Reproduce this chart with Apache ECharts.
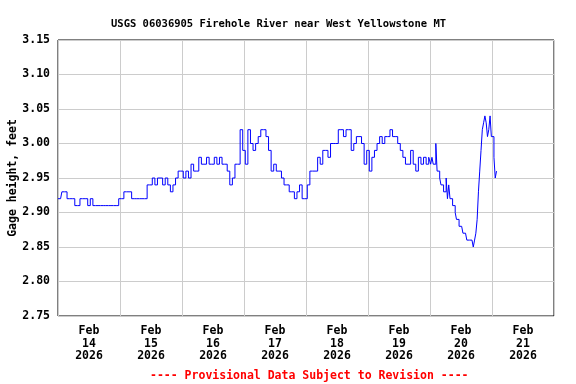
<!DOCTYPE html>
<html>
<head>
<meta charset="utf-8">
<script src="https://cdn.jsdelivr.net/npm/echarts@6/dist/echarts.min.js"></script>
<style>html,body{margin:0;padding:0;background:#fff;}#c{width:576px;height:384px;}</style>
</head>
<body>
<div id="c"></div>
<script>
// Day tick labels (centered on each day)
const dayLabels = ['Feb\n14\n2026','Feb\n15\n2026','Feb\n16\n2026','Feb\n17\n2026','Feb\n18\n2026','Feb\n19\n2026','Feb\n20\n2026','Feb\n21\n2026'];
const yTicks = [2.75, 2.80, 2.85, 2.90, 2.95, 3.00, 3.05, 3.10, 3.15];

// Gage height, feet — hourly readings (hour 0..23) per day
const feb14 = [2.92,2.92,2.93,2.93,2.92,2.92,2.92,2.91,2.91,2.92,2.92,2.92,2.91,2.92,2.91,2.91,2.91,2.91,2.91,2.91,2.91,2.91,2.91,2.91];
const feb15 = [2.92,2.92,2.93,2.93,2.93,2.92,2.92,2.92,2.92,2.92,2.92,2.94,2.94,2.95,2.94,2.95,2.95,2.94,2.95,2.94,2.93,2.94,2.95,2.96];
const feb16 = [2.96,2.95,2.96,2.95,2.97,2.96,2.96,2.98,2.97,2.97,2.98,2.97,2.97,2.98,2.97,2.98,2.97,2.97,2.96,2.94,2.95,2.97,2.97,3.02];
const feb17 = [2.99,2.97,3.02,3.00,2.99,3.00,3.01,3.02,3.02,3.01,2.99,2.96,2.97,2.96,2.96,2.95,2.94,2.94,2.93,2.93,2.92,2.93,2.94,2.92];
const feb18 = [2.92,2.94,2.96,2.96,2.96,2.98,2.97,2.99,2.99,2.98,3.00,3.00,3.00,3.02,3.02,3.01,3.02,3.02,2.99,3.00,3.01,3.01,3.00,2.97];
const feb19 = [2.99,2.96,2.98,2.99,3.00,3.01,3.00,3.01,3.01,3.02,3.01,3.01,3.00,2.99,2.98,2.97,2.97,2.99,2.97,2.96,2.98,2.97,2.98,2.97];
// half-hourly readings (hour 0, 0.5, 1, ...)
const feb20 = [2.98,2.97,2.98,2.97,2.97,3.00,2.96,2.96,2.95,2.94,
               2.94,2.93,2.93,2.95,2.92,2.94,2.92,2.92,2.91,2.91,
               2.90,2.89,2.89,2.88,2.88,2.88,2.87,2.87,2.87,2.86,
               2.86,2.86,2.86,2.86,2.85,2.86,2.87,2.89,2.93,2.96,
               2.99,3.02,3.03,3.04,3.03,3.01,3.02,3.04];
const feb21 = [3.01,3.01,2.98,2.95,2.96];

const hourlyDays = [feb14, feb15, feb16, feb17, feb18, feb19];
const halfHourDays = [[6, feb20], [7, feb21]];
const seriesData = [];
hourlyDays.forEach((arr, d) => arr.forEach((v, i) => seriesData.push([d * 24 + i, v])));
halfHourDays.forEach(([d, arr]) => arr.forEach((v, i) => seriesData.push([d * 24 + i * 0.5, v])));

const FONT = "'DejaVu Sans Mono', 'Liberation Mono', monospace";
const chart = echarts.init(document.getElementById('c'), null, {renderer: 'canvas'});
chart.setOption({
  animation: false,
  backgroundColor: '#ffffff',
  title: [
    {text: 'USGS 06036905 Firehole River near West Yellowstone MT', left: 106, top: 14,
     textStyle: {fontFamily: FONT, fontSize: 10.5, fontWeight: 'bold', color: '#000'}},
    {text: '---- Provisional Data Subject to Revision ----', left: 145, top: 365,
     textStyle: {fontFamily: FONT, fontSize: 11.5, fontWeight: 'bold', color: '#ff0000'}}
  ],
  grid: {left: 58, top: 40, right: 22, bottom: 68, containLabel: false, outerBoundsMode: 'none',
         show: true, borderColor: '#000', borderWidth: 1, backgroundColor: 'transparent'},
  xAxis: [
    {type: 'value', min: 0, max: 192, show: false},
    {type: 'category', data: dayLabels, boundaryGap: true, position: 'bottom',
     axisLine: {show: false}, axisTick: {show: false},
     splitLine: {show: true, interval: 0, lineStyle: {color: '#cccccc', width: 1}},
     axisLabel: {interval: 0, margin: 9, fontFamily: FONT, fontSize: 11.5, fontWeight: 'bold', color: '#000', lineHeight: 12.5}}
  ],
  yAxis: {
    type: 'value', min: yTicks[0], max: yTicks[yTicks.length - 1], interval: 0.05,
    name: 'Gage height, feet', nameLocation: 'middle', nameGap: 39, nameRotate: 90, nameMoveOverlap: false,
    nameTextStyle: {fontFamily: FONT, fontSize: 11.5, fontWeight: 'bold', color: '#000'},
    axisLine: {show: false}, axisTick: {show: false},
    splitLine: {show: true, lineStyle: {color: '#cccccc', width: 1}},
    axisLabel: {margin: 8, fontFamily: FONT, fontSize: 11.5, fontWeight: 'bold', color: '#000',
      formatter: v => v.toFixed(2)}
  },
  series: [{
    type: 'line', xAxisIndex: 0, data: seriesData, step: 'middle', showSymbol: false,
    lineStyle: {color: '#0000ff', width: 1}, z: 3
  }]
});
</script>
</body>
</html>
